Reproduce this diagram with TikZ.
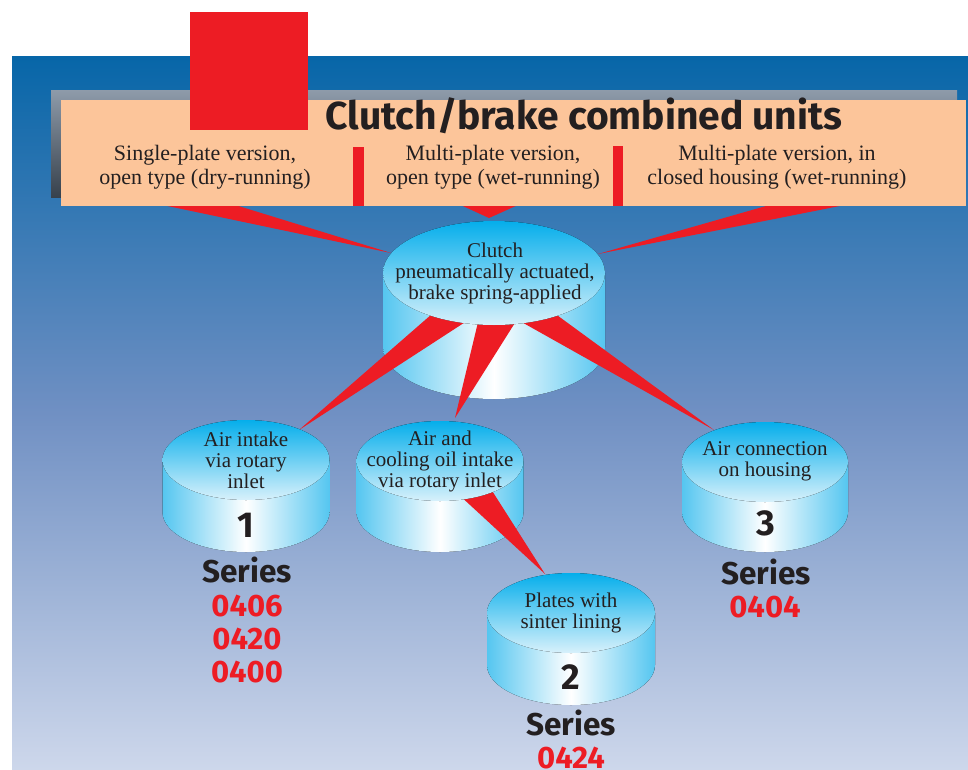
\documentclass[tikz,border=0pt]{standalone}
\usepackage{fontspec}
\setmainfont{Liberation Serif}
\newfontfamily\hfont{Fira Sans}
\definecolor{bgtop}{HTML}{0766A8}
\definecolor{bgmid}{HTML}{7090C3}
\definecolor{bgbot}{HTML}{CDD7EB}
\definecolor{shtop}{HTML}{8E9BAA}
\definecolor{shbot}{HTML}{37414C}
\definecolor{peach}{HTML}{FCC59A}
\definecolor{wred}{HTML}{ED1C24}
\definecolor{txtdark}{HTML}{231F20}
\definecolor{cyltopc}{HTML}{05AEEB}
\definecolor{cylbot}{HTML}{D8F1FB}
\definecolor{cyledge}{HTML}{55C6F0}
\tikzset{
  wedge/.style={fill=wred, draw=none},
  cyltxt/.style={font=\fontsize{21}{21}\selectfont, text=txtdark, align=center, inner sep=0pt},
  hdtxt/.style={font=\fontsize{22}{23.5}\selectfont, text=txtdark, align=center, inner sep=0pt},
  titlelbl/.style={font={\hfont\bfseries\fontsize{39}{39}\selectfont}, text=txtdark, inner sep=0pt},
  numlbl/.style={font={\hfont\bfseries\fontsize{36}{36}\selectfont}, text=txtdark, inner sep=0pt},
  serlbl/.style={font={\hfont\bfseries\fontsize{31.5}{31.5}\selectfont}, text=txtdark, inner sep=0pt},
  codelbl/.style={font={\hfont\bfseries\fontsize{31}{31}\selectfont}, text=wred, inner sep=0pt},
  cylsidestyle/.style={left color=cyledge, right color=cyledge, middle color=white, draw=none},
  cyltopstyle/.style={top color=cyltopc, bottom color=cylbot, draw=none},
}
% cx, ytop-centre, ybottom-centre, rx, ry
\newcommand\drawcylside[5]{%
  \fill[cylsidestyle] (#1-#4,#2) -- (#1-#4,#3)
    arc[start angle=180, end angle=360, x radius=#4pt, y radius=#5pt]
    -- (#1+#4,#2) -- cycle;}
\newcommand\drawcyltop[4]{%
  \fill[cyltopstyle] (#1,#2) ellipse[x radius=#3pt, y radius=#4pt];}
\begin{document}
\begin{tikzpicture}[x=1pt,y=-1pt]
\useasboundingbox (0,0) rectangle (968,769);
\fill[white] (0,0) rectangle (968,769);
\shade[top color=bgtop, bottom color=bgbot, middle color=bgmid] (12,56) rectangle (968,769);

% wedge coordinates
\coordinate (wA1) at (120,196); \coordinate (wA2) at (206,196); \coordinate (wAt) at (391,253);
\coordinate (wB1) at (441,196); \coordinate (wB2) at (538,196); \coordinate (wBt) at (489,218);
\coordinate (wC1) at (801,196); \coordinate (wC2) at (890,196); \coordinate (wCt) at (598,254);
\coordinate (wD1) at (440,307); \coordinate (wD2) at (473,317); \coordinate (wDt) at (299,430);
\coordinate (wE1) at (479,318); \coordinate (wE2) at (518,318); \coordinate (wEt) at (455,418);
\coordinate (wF1) at (518,320); \coordinate (wF2) at (550,310); \coordinate (wFt) at (714,430);
\coordinate (wG1) at (457,493); \coordinate (wG2) at (489,486); \coordinate (wGt) at (545,574);

% top wedges (under header)
\fill[wedge] (wA1) -- (wA2) -- (wAt) -- cycle;
\fill[wedge] (wB1) -- (wB2) -- (wBt) -- cycle;
\fill[wedge] (wC1) -- (wC2) -- (wCt) -- cycle;

% header
\shade[top color=shtop, bottom color=shbot] (51,90) rectangle (957,197);
\fill[peach] (61,100) rectangle (966,206);
\fill[wred] (353,147) rectangle (364,206);
\fill[wred] (613,146) rectangle (623,206);
\fill[wred] (190,12) rectangle (308,130);
\node[titlelbl, anchor=base] (title) at (584,129) {Clutch/brake combined units};
\node[hdtxt] (h1) at (205,167) {Single-plate version,\\open type (dry-running)};
\node[hdtxt] (h2) at (493,167) {Multi-plate version,\\open type (wet-running)};
\node[hdtxt] (h3) at (777,167) {Multi-plate version, in\\closed housing (wet-running)};

% main cylinder
\drawcylside{494}{273}{347}{111}{52}
\fill[wedge] (wD1) -- (wD2) -- (wDt) -- cycle;
\fill[wedge] (wE1) -- (wE2) -- (wEt) -- cycle;
\fill[wedge] (wF1) -- (wF2) -- (wFt) -- cycle;
\drawcyltop{494}{273}{111}{52}
\node[cyltxt] (t0) at (495,273) {Clutch\\pneumatically actuated,\\brake spring-applied};

% cylinder 1
\drawcylside{246}{460}{512}{83.5}{40}
\drawcyltop{246}{460}{83.5}{40}
\node[cyltxt] (t1) at (246,460) {Air intake\\via rotary\\inlet};
\node[numlbl] (n1) at (246,525) {1};
\node[serlbl] (s1) at (247,570) {Series};
\node[codelbl] (c1a) at (247,606) {0406};
\node[codelbl] (c1b) at (247,639) {0420};
\node[codelbl] (c1c) at (247,672) {0400};

% cylinder 2a
\drawcylside{440}{461}{512}{83.5}{40}
\fill[wedge] (wG1) -- (wG2) -- (wGt) -- cycle;
\drawcyltop{440}{461}{83.5}{40}
\node[cyltxt] (t2a) at (440,461) {Air and\\cooling oil intake\\via rotary inlet};

% cylinder 2
\drawcylside{571}{613}{665}{84}{40}
\drawcyltop{571}{613}{84}{40}
\node[cyltxt] (t2) at (571,613) {Plates with\\sinter lining};
\node[numlbl] (n2) at (571,677) {2};
\node[serlbl] (s2) at (571,723) {Series};
\node[codelbl] (c2) at (571,758) {0424};

% cylinder 3
\drawcylside{765}{462}{512}{83}{40}
\drawcyltop{765}{462}{83}{40}
\node[cyltxt] (t3) at (765,461) {Air connection\\on housing};
\node[numlbl] (n3) at (766,523) {3};
\node[serlbl] (s3) at (766,572) {Series};
\node[codelbl] (c3) at (765,607) {0404};
\end{tikzpicture}
\end{document}
